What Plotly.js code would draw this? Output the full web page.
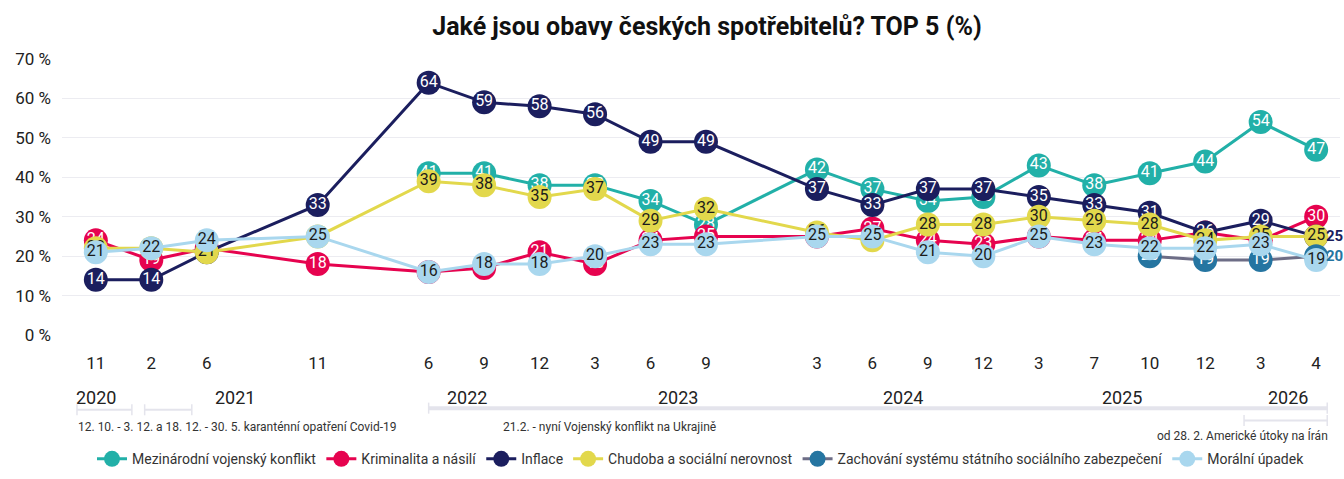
<!DOCTYPE html>
<html><head><meta charset="utf-8">
<script src="https://cdn.plot.ly/plotly-3.0.1.min.js"></script>
<style>html,body{margin:0;padding:0;background:#fff}#c{width:1344px;height:479px}</style>
</head><body><div id="c"></div>
<script>
// survey waves (position index on the time axis; empty slots are months without a wave)
const xIdx = [0,1,2,4,6,7,8,9,10,11,13,14,15,16,17,18,19,20,21,22];
const monthLabels = ['11','2','6','11','6','9','12','3','6','9','3','6','9','12','3','7','10','12','3','4'];
const yearLabels = ['2020','2021','2022','2023','2024','2025','2026'];
const yearPos = [0,2.5,6.7,10.5,14.55,18.5,21.5];

const seriesNames = ['Mezinárodní vojenský konflikt','Kriminalita a násilí','Inflace','Chudoba a sociální nerovnost','Zachování systému státního sociálního zabezpečení','Morální úpadek'];
const konflikt  = [null,null,null,null,41,41,38,38,34,28,42,37,34,35,43,38,41,44,54,47];
const kriminalita=[24,19,22,18,16,17,21,18,24,25,25,27,24,23,25,24,24,26,24,30];
const inflace   = [14,14,21,33,64,59,58,56,49,49,37,33,37,37,35,33,31,26,29,25];
const chudoba   = [22,22,21,25,39,38,35,37,29,32,26,24,28,28,30,29,28,24,25,25];
const zabezpeceni=[null,null,null,null,null,null,null,null,null,null,null,null,null,null,null,null,20,19,19,20];
const upadek    = [21,22,24,25,16,18,18,20,23,23,25,25,21,20,25,23,22,22,23,19];

const periodTexts = ['12. 10. - 3. 12. a 18. 12. - 30. 5. karanténní opatření Covid-19','21.2. - nyní Vojenský konflikt na Ukrajině','od 28. 2. Americké útoky na Írán'];

const F = 'Roboto, "Noto Sans", sans-serif';
const colors = ['#22b0a8','#e6034f','#1b1e5e','#e2d84c','#2575a1','#a9d7ee'];
const lineColors = ['#22b0a8','#e6034f','#1b1e5e','#e2d84c','#6d6d86','#a9d7ee'];
const textColors = ['#ffffff','#ffffff','#ffffff','#1b1b1b','#ffffff','#1b1b1b'];
const allData = [konflikt,kriminalita,inflace,chudoba,zabezpeceni,upadek];
const outsideLabel = [false,false,true,false,true,false];

const traces = allData.map((d,i)=>{
  const last = d.length-1;
  return {
    x: xIdx, y: d, name: seriesNames[i], type:'scatter', mode:'lines+markers+text',
    text: d.map((v,j)=> (v==null || (outsideLabel[i] && j===last)) ? '' : String(v)),
    textposition:'middle center',
    textfont:{family:F,size:16,color:textColors[i]},
    line:{color:lineColors[i],width:3},
    marker:{color:colors[i],size:24,line:{width:0}},
    cliponaxis:false, hoverinfo:'none'
  };
});

const annotations = [];
yearLabels.forEach((t,i)=>annotations.push({x:yearPos[i],y:-0.225,xref:'x',yref:'paper',text:t,showarrow:false,font:{family:F,size:18,color:'#222'},xanchor:'center',yanchor:'middle'}));
// outside labels for last points
[2,4].forEach(i=>{
  const d = allData[i];
  annotations.push({x:xIdx[xIdx.length-1],y:d[d.length-1],xref:'x',yref:'y',text:'<b>'+d[d.length-1]+'</b>',showarrow:false,xshift:8,xanchor:'left',yanchor:'middle',font:{family:F,size:15,color:colors[i]}});
});
annotations.push({x:-0.35,y:-0.334,xref:'x',yref:'paper',text:periodTexts[0],showarrow:false,xanchor:'left',yanchor:'middle',font:{family:F,size:12,color:'#333'}});
annotations.push({x:7.3,y:-0.334,xref:'x',yref:'paper',text:periodTexts[1],showarrow:false,xanchor:'left',yanchor:'middle',font:{family:F,size:12,color:'#333'}});
annotations.push({x:22.25,y:-0.363,xref:'x',yref:'paper',text:periodTexts[2],showarrow:false,xanchor:'right',yanchor:'middle',font:{family:F,size:12,color:'#333'}});

const barC = '#e4e4ec';
function bar(x0,x1,y,w,ticks){
  const s=[{type:'line',xref:'x',yref:'paper',x0:x0,x1:x1,y0:y,y1:y,line:{color:barC,width:w}}];
  ticks.forEach(x=>s.push({type:'line',xref:'x',yref:'paper',x0:x,x1:x,y0:y-0.02,y1:y+0.02,line:{color:barC,width:1.5}}));
  return s;
}
const shapes = [].concat(
  bar(-0.34,0.65,-0.271,2,[-0.34,0.65]),
  bar(0.88,1.73,-0.271,2,[0.88,1.73]),
  bar(6.0,22.2,-0.265,4,[6.0,22.2]),
  bar(20.7,22.2,-0.31,2,[20.7,22.2])
);

const layout = {
  width:1344,height:479,
  margin:{l:62,r:4,t:59,b:136},
  paper_bgcolor:'#fff',plot_bgcolor:'#fff',
  title:{text:'<b>Jaké jsou obavy českých spotřebitelů? TOP 5 (%)</b>',x:0.526,xanchor:'center',y:0.945,yanchor:'middle',font:{family:F,size:25,color:'#111',weight:900}},
  xaxis:{range:[-0.61,22.43],tickmode:'array',tickvals:xIdx,ticktext:monthLabels,showgrid:false,zeroline:false,showline:false,ticks:'',ticklabelstandoff:16,tickfont:{family:F,size:17,color:'#222'},fixedrange:true},
  yaxis:{range:[0,70],dtick:10,ticksuffix:' %',showgrid:true,gridcolor:'#ececf1',gridwidth:1,zeroline:false,showline:false,ticks:'',ticklabelstandoff:10,tickfont:{family:F,size:17,color:'#222'},fixedrange:true},
  showlegend:true,
  legend:{orientation:'h',x:0.5,xanchor:'center',y:-0.45,yanchor:'middle',font:{family:F,size:14,color:'#333'},itemclick:false,traceorder:'normal',itemwidth:30},
  annotations:annotations, shapes:shapes
};
Plotly.newPlot('c',traces,layout,{staticPlot:true,displayModeBar:false});
</script></body></html>
